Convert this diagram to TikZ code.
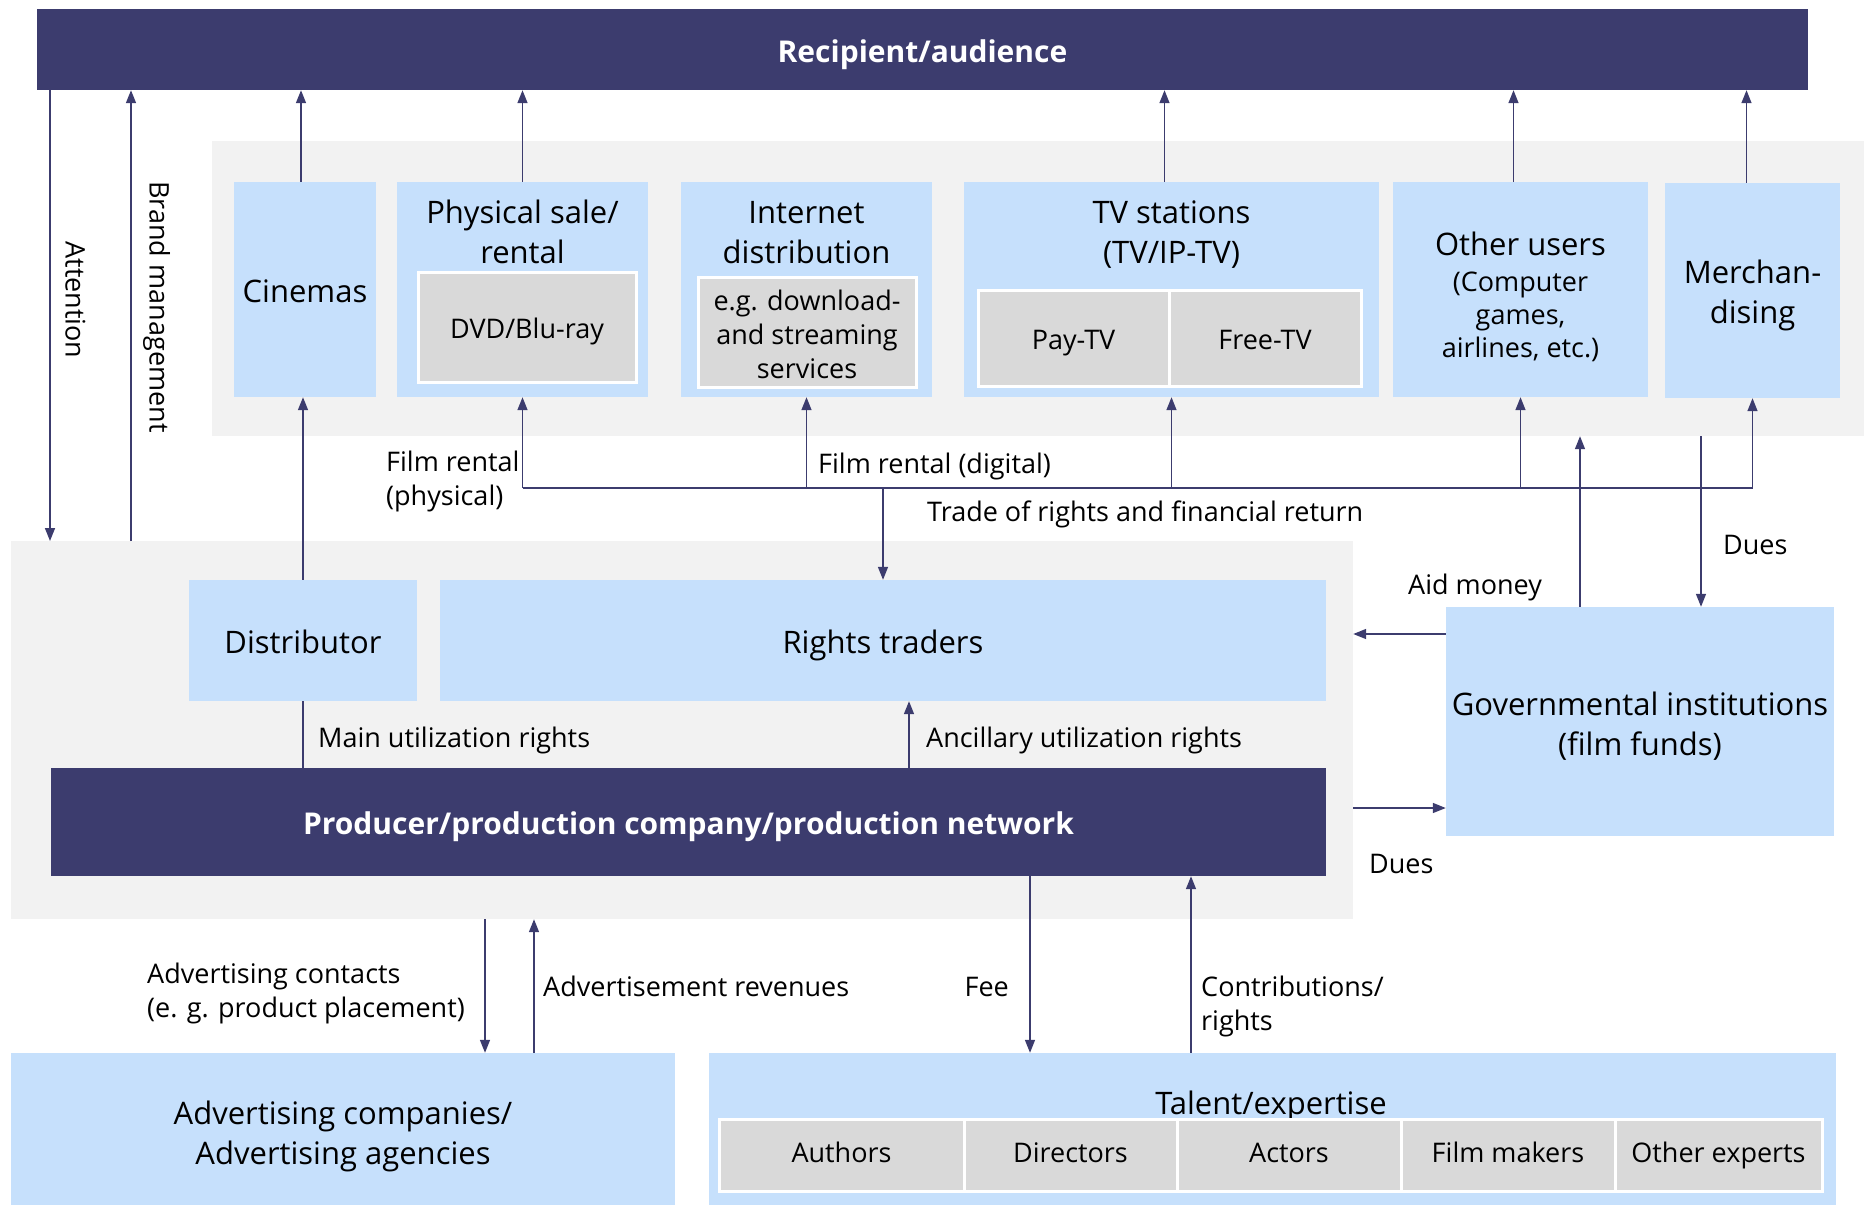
\documentclass[tikz,border=0pt]{standalone}
\usepackage{fontspec}
\setmainfont{Open Sans}
\usetikzlibrary{arrows.meta}
\definecolor{navy}{RGB}{60,60,110}
\definecolor{lblue}{RGB}{198,224,252}
\definecolor{panel}{RGB}{242,242,242}
\definecolor{inner}{RGB}{217,217,217}

\begin{document}
\begin{tikzpicture}[x=1pt,y=-1pt,
  every node/.style={inner sep=0pt,align=center,font=\fontsize{27}{34}\selectfont,
    execute at begin node={\rule{0pt}{1.09em}},execute at end node={\rule[-.25em]{0pt}{.25em}}},
  ttl/.style={font=\fontsize{31}{40}\selectfont},
  box/.style={fill=lblue,ttl},
  dark/.style={fill=navy,text=white,font=\fontsize{30}{40}\selectfont\bfseries},
  sub/.style={fill=inner,draw=white,line width=3pt},
  bg/.style={fill=panel},
  ln/.style={draw=navy,line width=1.5pt},
  arr/.style={ln,-{Triangle[length=13pt,width=10pt]}}]
\useasboundingbox (0,0) rectangle (1864,1205);
% panels
\node[bg,minimum width=1652pt,minimum height=295pt](outlets) at (1038,288.5){};
\node[bg,minimum width=1342pt,minimum height=378pt](core) at (682,730){};
% audience and outlets
\node[dark,minimum width=1771pt,minimum height=81pt](aud) at (922.5,49.5){Recipient/audience};
\node[box,minimum width=142pt,minimum height=215pt](cin) at (305,289.5){Cinemas};
\node[box,minimum width=251pt,minimum height=215pt](phys) at (522.5,289.5){};
\node[ttl](phys-t) at (522.5,236){Physical sale/\\rental};
\node[sub,minimum width=218pt,minimum height=110pt](dvd) at (527,327){DVD/Blu-ray};
\node[box,minimum width=251pt,minimum height=215pt](inet) at (806.5,289.5){};
\node[ttl](inet-t) at (806.5,236){Internet\\distribution};
\node[sub,minimum width=218pt,minimum height=110pt](stream) at (807,332){};
\node[yshift=-6pt](stream-t) at (stream){e.g. download-\\and streaming\\services};
\node[box,minimum width=415pt,minimum height=215pt](tv) at (1171.5,289.5){};
\node[ttl](tv-t) at (1171.5,236){TV stations\\(TV/IP-TV)};
\node[sub,minimum width=191pt,minimum height=96pt](pay) at (1073.5,338){Pay-TV};
\node[sub,minimum width=192pt,minimum height=96pt](free) at (1265,338){Free-TV};
\node[box,minimum width=255pt,minimum height=215pt](oth) at (1520.5,289.5){};
\node[ttl](oth-t) at (1520.5,242){Other users};
\node[font=\fontsize{27}{33}\selectfont](oth-n) at (1520.5,318){(Computer\\games,\\airlines, etc.)};
\node[box,minimum width=175pt,minimum height=215pt](merch) at (1752.5,290.5){};
\node[ttl,yshift=-5.5pt](merch-t) at (merch){Merchan-\\dising};
% core
\node[box,minimum width=228pt,minimum height=121pt](dist) at (303,640.5){Distributor};
\node[box,minimum width=886pt,minimum height=121pt](rt) at (883,640.5){Rights traders};
\node[dark,minimum width=1275pt,minimum height=108pt](prod) at (688.5,822){Producer/production company/production network};
\node[box,minimum width=388pt,minimum height=229pt](gov) at (1640,721.5){};
\node[ttl,yshift=-6pt](gov-t) at (gov){Governmental institutions\\(film funds)};
% bottom
\node[box,minimum width=664pt,minimum height=152pt](adv) at (343,1129){};
\node[ttl,yshift=-8pt](adv-t) at (adv){Advertising companies/\\Advertising agencies};
\node[box,minimum width=1127pt,minimum height=152pt](tal) at (1272.5,1129){};
\node[ttl](tal-t) at (1271,1101){Talent/expertise};
\foreach \n/\a/\b [count=\i] in {Authors/719/964,Directors/964/1177,Actors/1177/1401,Film makers/1401/1615,Other experts/1615/1822}{
  \node[sub,minimum width=\b pt-\a pt,minimum height=72pt](tal-\i) at ({(\a+\b)/2},1155){};
  \node[yshift=3.5pt](tal-\i-t) at (tal-\i){\n};}
% connectors
\coordinate (att) at (50,541);\coordinate (brd) at (131,541);
\draw[arr] (aud.south -| att) -- (att);
\draw[arr] (brd) -- (brd |- aud.south);
\foreach \b/\dx in {cin/-4,phys/0,tv/-7,oth/-7,merch/-6}
  \draw[arr] ([xshift=\dx pt]\b.north) -- ([xshift=\dx pt]\b.north |- aud.south);
\draw[arr] (dist.north) -- (dist.north |- cin.south);
\draw[ln] (dist.south) -- (dist.south |- prod.north);
\coordinate (anc) at (909,0);
\draw[arr] (anc |- prod.north) -- (anc |- rt.south);
\coordinate (hub) at (883,488);
\draw[ln] (hub -| phys.south) -- (hub -| merch.south);
\foreach \b in {phys,inet,tv,oth,merch} \draw[arr] (hub -| \b.south) -- (\b.south);
\draw[arr] (hub) -- (rt.north);
\coordinate (aid) at (1580,0);\coordinate (due) at (1701,0);
\draw[arr] (aid |- gov.north) -- (aid |- outlets.south);
\draw[arr] (due |- outlets.south) -- (due |- gov.north);
\coordinate (aidin) at (0,634);\coordinate (dueout) at (0,808);
\draw[arr] (gov.west |- aidin) -- (core.east |- aidin);
\draw[arr] (core.east |- dueout) -- (gov.west |- dueout);
\coordinate (adc) at (485,0);\coordinate (adr) at (534,0);
\draw[arr] (adc |- core.south) -- (adc |- adv.north);
\draw[arr] (adr |- adv.north) -- (adr |- core.south);
\coordinate (fee) at (1030,0);\coordinate (con) at (1191,0);
\draw[arr] (fee |- prod.south) -- (fee |- tal.north);
\draw[arr] (con |- tal.north) -- (con |- prod.south);
% labels
\node[rotate=-90](att-l) at (77,300){Attention};
\node[rotate=-90](brd-l) at (161,307){Brand management};
\node[align=left,anchor=west](phys-l) at (386,482){Film rental\\(physical)};
\node[anchor=west](dig-l) at (818,462){Film rental (digital)};
\node[anchor=west](trade-l) at (927,510){Trade of rights and financial return};
\node[anchor=west](main-l) at (318,736){Main utilization rights};
\node[anchor=west](anc-l) at (926,736){Ancillary utilization rights};
\node[anchor=west](aid-l) at (1408,583){Aid money};
\node[anchor=west](due-l) at (1723,543){Dues};
\node[anchor=west](dueout-l) at (1369,862){Dues};
\node[align=left,anchor=west](adc-l) at (147,994){Advertising contacts\\(e. g. product placement)};
\node[anchor=west](adr-l) at (543,985){Advertisement revenues};
\node[anchor=east](fee-l) at (1009,985){Fee};
\node[align=left,anchor=west](con-l) at (1201,1007){Contributions/\\rights};
\end{tikzpicture}
\end{document}
